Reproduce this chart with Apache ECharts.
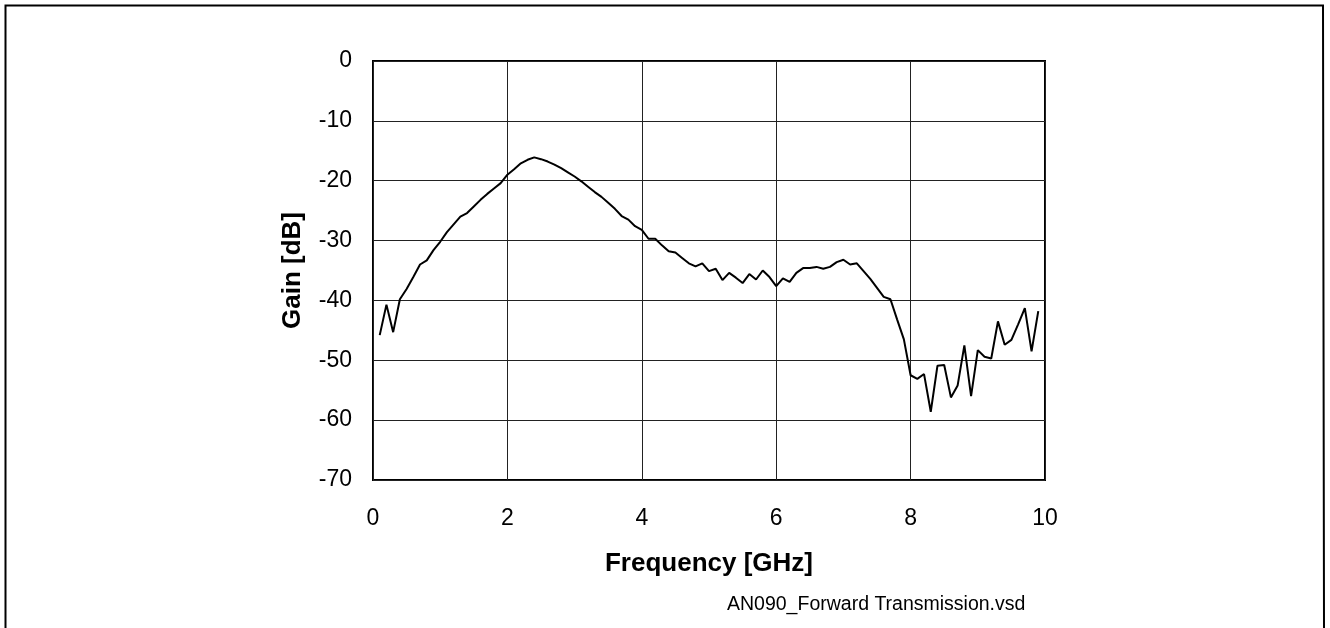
<!DOCTYPE html>
<html>
<head>
<meta charset="utf-8">
<script src="https://cdn.jsdelivr.net/npm/echarts@6/dist/echarts.min.js"></script>
<style>
html,body{margin:0;padding:0;background:#fff;}
#chart{width:1330px;height:628px;}
</style>
</head>
<body>
<div id="chart"></div>
<script>
const freqGHz = [0.1,0.2,0.3,0.4,0.5,0.6,0.7,0.8,0.9,1.0,1.1,1.2,1.3,1.4,1.5,1.6,1.7,1.8,1.9,2.0,2.1,2.2,2.3,2.4,2.5,2.6,2.7,2.8,2.9,3.0,3.1,3.2,3.3,3.4,3.5,3.6,3.7,3.8,3.9,4.0,4.1,4.2,4.3,4.4,4.5,4.6,4.7,4.8,4.9,5.0,5.1,5.2,5.3,5.4,5.5,5.6,5.7,5.8,5.9,6.0,6.1,6.2,6.3,6.4,6.5,6.6,6.7,6.8,6.9,7.0,7.1,7.2,7.3,7.4,7.5,7.6,7.7,7.8,7.9,8.0,8.1,8.2,8.3,8.4,8.5,8.6,8.7,8.8,8.9,9.0,9.1,9.2,9.3,9.4,9.5,9.6,9.7,9.8,9.9];
const gainDB = [-45.8,-40.7,-45.3,-39.8,-38.1,-36.1,-34.0,-33.3,-31.6,-30.2,-28.6,-27.3,-26.0,-25.4,-24.3,-23.2,-22.2,-21.3,-20.4,-19.0,-18.1,-17.1,-16.5,-16.1,-16.4,-16.8,-17.3,-17.9,-18.6,-19.3,-20.1,-21.0,-21.9,-22.7,-23.7,-24.7,-25.9,-26.5,-27.6,-28.2,-29.7,-29.7,-30.8,-31.8,-32.0,-32.9,-33.8,-34.3,-33.8,-35.1,-34.7,-36.6,-35.4,-36.2,-37.1,-35.6,-36.5,-35.0,-36.1,-37.6,-36.3,-36.9,-35.4,-34.6,-34.6,-34.4,-34.7,-34.4,-33.6,-33.2,-34.0,-33.8,-35.1,-36.4,-37.9,-39.4,-39.8,-43.2,-46.5,-52.5,-53.1,-52.3,-58.6,-50.9,-50.8,-56.2,-54.2,-47.5,-56.0,-48.3,-49.4,-49.7,-43.5,-47.4,-46.6,-44.0,-41.3,-48.5,-41.8];
const xAxisTitle = 'Frequency [GHz]';
const yAxisTitle = 'Gain [dB]';
const footnote = 'AN090_Forward Transmission.vsd';

const seriesData = freqGHz.map((f, i) => [f, gainDB[i]]);
const FONT = '"Liberation Sans", Arial, sans-serif';

const chart = echarts.init(document.getElementById('chart'), null, {renderer: 'canvas'});
chart.setOption({
  animation: false,
  backgroundColor: '#fff',
  grid: {left: 373, right: 285, top: 61, bottom: 148, show: true, borderColor: '#000', borderWidth: 2, backgroundColor: 'transparent'},
  xAxis: {
    type: 'value', min: 0, max: 10, interval: 2,
    name: xAxisTitle, nameLocation: 'middle', nameGap: 71,
    nameTextStyle: {fontFamily: FONT, fontSize: 26, fontWeight: 'bold', color: '#000'},
    axisLine: {show: false}, axisTick: {show: false},
    axisLabel: {fontFamily: FONT, fontSize: 23, color: '#000', margin: 27},
    splitLine: {show: true, lineStyle: {color: '#222', width: 1}}
  },
  yAxis: {
    type: 'value', min: -70, max: 0, interval: 10,
    name: yAxisTitle, nameLocation: 'middle', nameGap: 67, nameRotate: 90,
    nameTextStyle: {fontFamily: FONT, fontSize: 26, fontWeight: 'bold', color: '#000'},
    axisLine: {show: false}, axisTick: {show: false},
    axisLabel: {fontFamily: FONT, fontSize: 23, color: '#000', margin: 21},
    splitLine: {show: true, lineStyle: {color: '#222', width: 1}}
  },
  series: [{
    type: 'line', data: seriesData, showSymbol: false, symbol: 'none',
    lineStyle: {color: '#000', width: 2}, z: 5
  }],
  graphic: [
    {type: 'polyline', shape: {points: [[5.5, 628], [5.5, 5.5], [1323, 5.5], [1324, 628]]}, style: {stroke: '#000', lineWidth: 2, fill: null}},
    {type: 'text', left: 727, top: 595, style: {text: footnote, font: '19.5px ' + FONT, fill: '#000'}}
  ]
});
</script>
</body>
</html>
